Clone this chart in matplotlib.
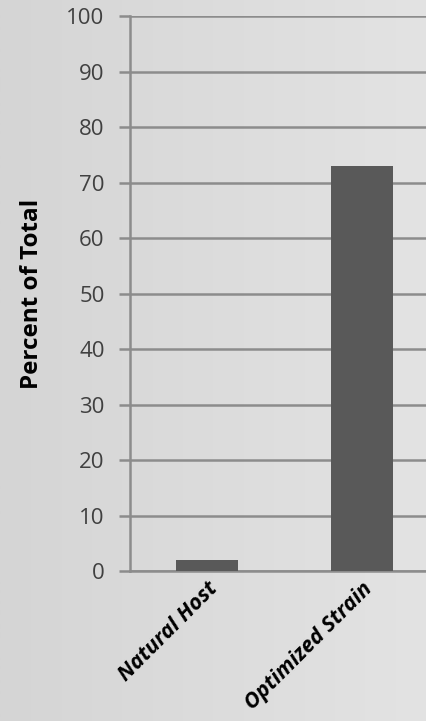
import numpy as np
import matplotlib.pyplot as plt
from matplotlib.colors import LinearSegmentedColormap

categories = ['Natural Host', 'Optimized Strain']
percent_total = [2, 73]
y_ticks = [0, 10, 20, 30, 40, 50, 60, 70, 80, 90, 100]

plt.rcParams['font.family'] = ['Open Sans', 'DejaVu Sans']

fig = plt.figure(figsize=(4.27, 7.21), dpi=100)

# soft horizontal gray gradient behind everything
bg = fig.add_axes([0, 0, 1, 1], zorder=0)
grays = LinearSegmentedColormap.from_list('bg', ['#d5d5d5', '#e3e3e3'])
bg.imshow(np.linspace(0, 1, 256).reshape(1, -1), aspect='auto', cmap=grays,
          extent=[0, 1, 0, 1])
bg.axis('off')

ax = fig.add_axes([0.3033, 0.208, 0.726, 0.7698], zorder=1)
ax.patch.set_alpha(0)

x = np.arange(len(categories))
ax.bar(x, percent_total, width=0.4, color='#595959', zorder=3)

ax.set_xlim(-0.5, 1.5)
ax.set_ylim(0, 100)
ax.set_yticks(y_ticks)
ax.yaxis.grid(True, color='#8c8c8c', linewidth=1.8, zorder=0)
ax.set_axisbelow(True)

for s in ['top', 'right']:
    ax.spines[s].set_visible(False)
for s in ['left', 'bottom']:
    ax.spines[s].set_color('#8c8c8c')
    ax.spines[s].set_linewidth(1.8)

ax.tick_params(axis='y', length=8, width=1.8, color='#8c8c8c',
               labelsize=16, labelcolor='#404040', pad=10)
ax.tick_params(axis='x', length=0, pad=5)
ax.set_xticks(x)
ax.set_xticklabels(categories, rotation=45, ha='right', rotation_mode='anchor',
                   fontsize=15.5, fontweight='bold', fontstyle='italic', color='black')

ax.set_ylabel('Percent of Total', fontsize=17.5, fontweight='bold', labelpad=16)

fig.savefig('out.png', dpi=100)
